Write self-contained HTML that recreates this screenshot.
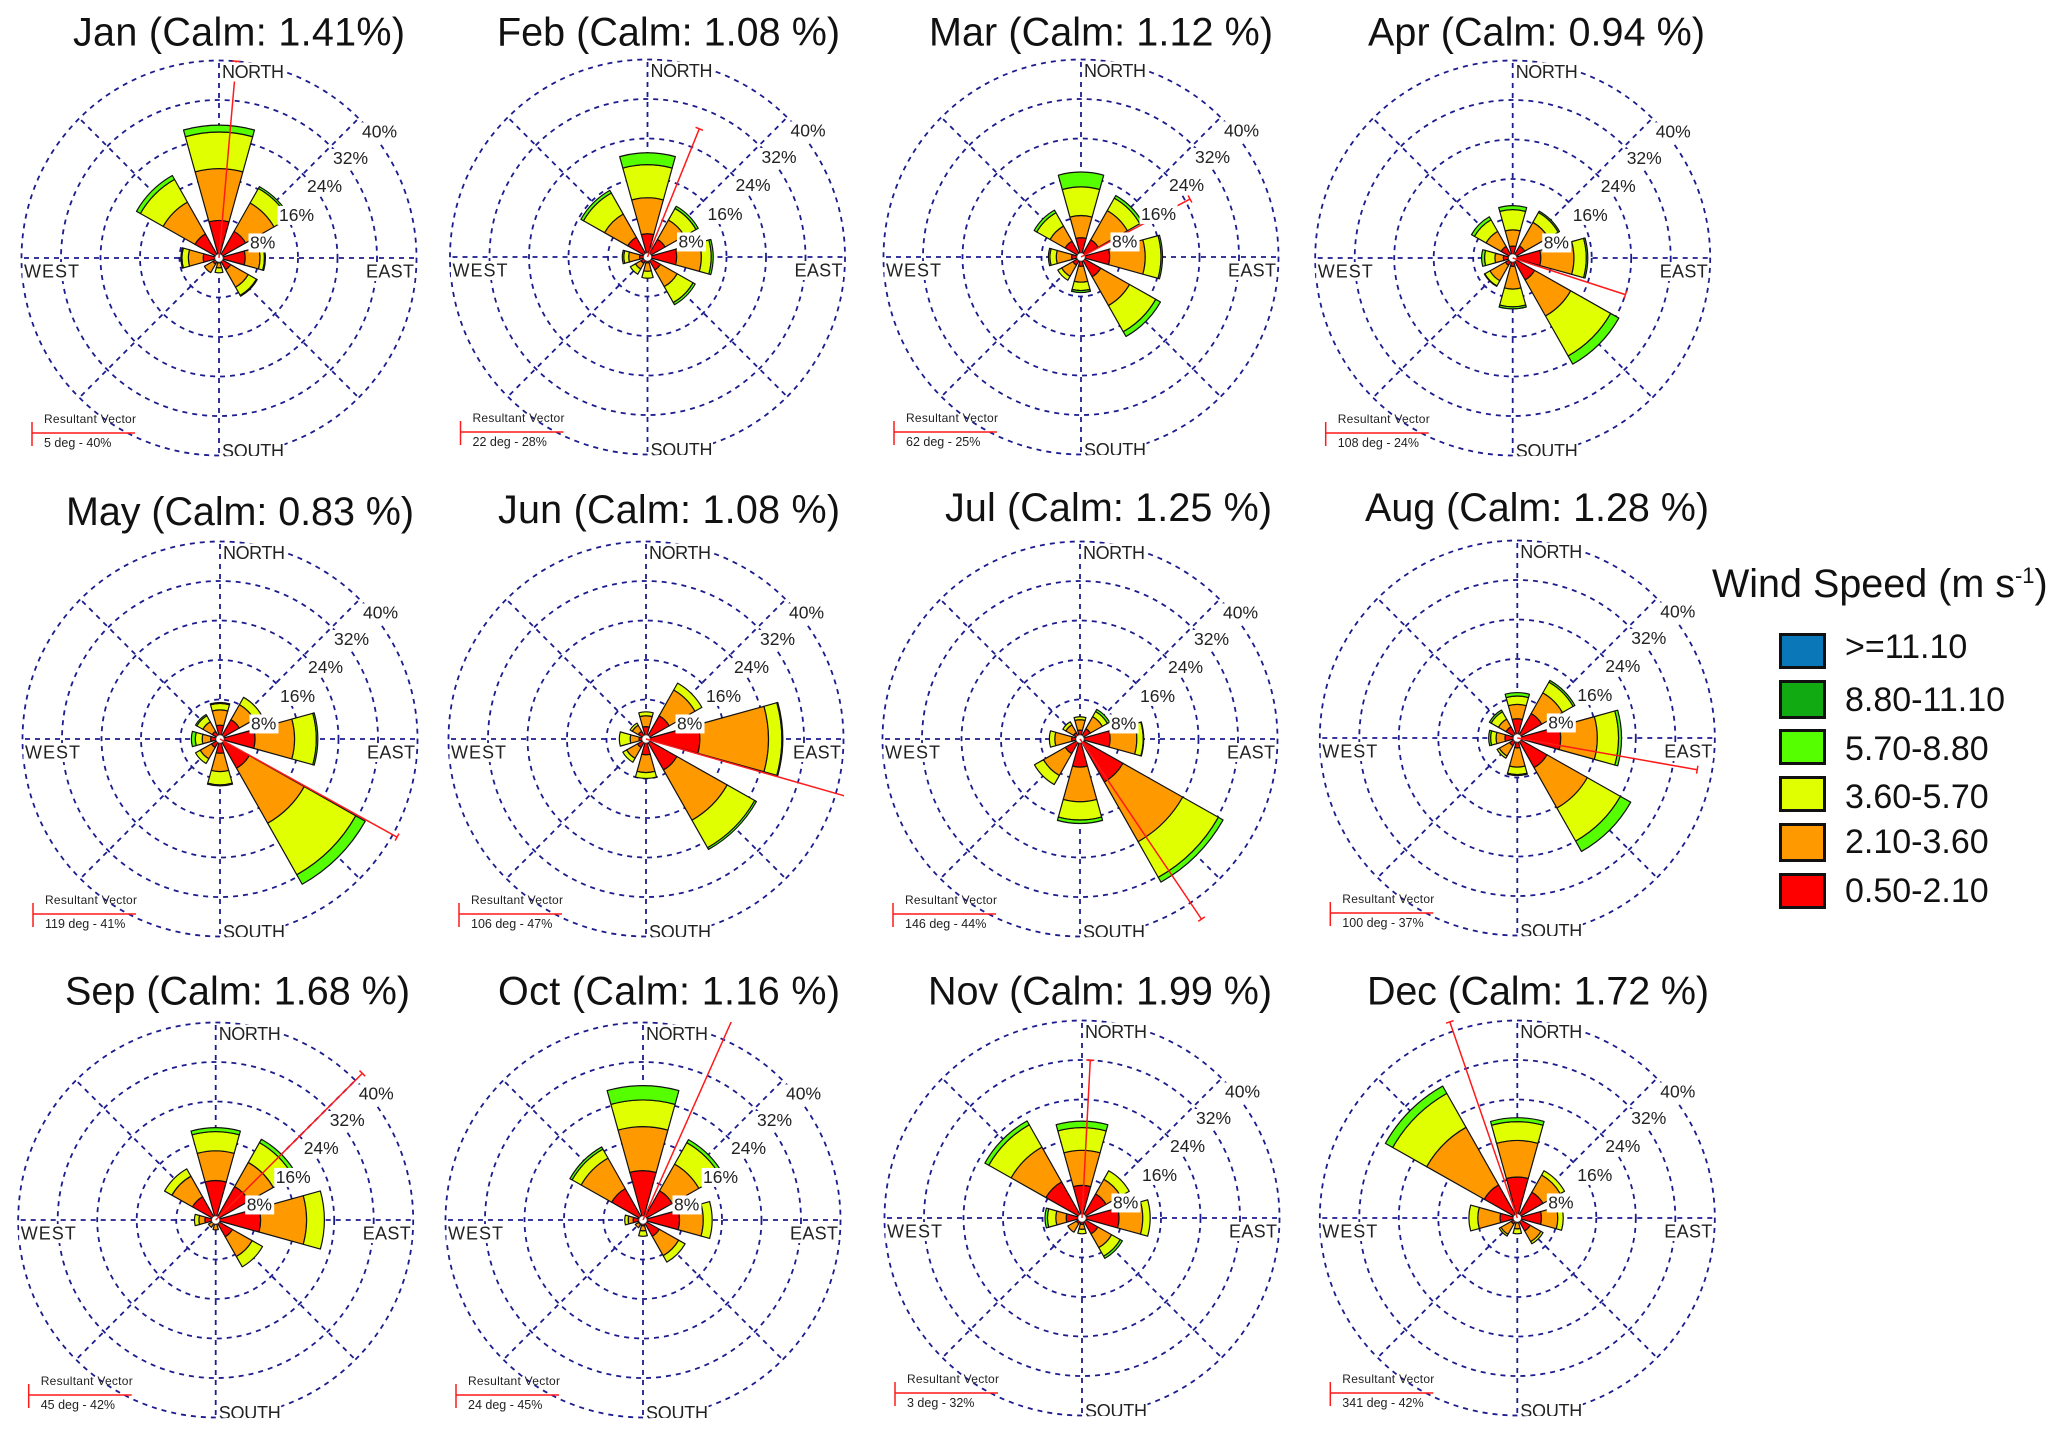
<!DOCTYPE html>
<html lang="en">
<head>
<meta charset="utf-8">
<title>Monthly wind roses</title>
<style>
html,body{margin:0;padding:0;background:#fff;}
svg{display:block;font-family:"Liberation Sans",Arial,sans-serif;filter:blur(0.35px);}
</style>
</head>
<body>
<svg id="wind-rose-figure" xmlns="http://www.w3.org/2000/svg" width="2067" height="1437" viewBox="0 0 2067 1437">
  <rect x="0" y="0" width="2067" height="1437" fill="#fff"/>
  <g id="panels"></g>
  <g>
    <text x="1712" y="597" font-size="39.5" fill="#111">Wind Speed (m s<tspan font-size="22" dy="-14">-1</tspan><tspan dy="14">)</tspan></text>
    <g>
      <rect x="1780.5" y="634.5" width="44" height="33" fill="#0a78b8" stroke="#111" stroke-width="3"/>
      <text x="1845" y="658" font-size="34" fill="#111">&gt;=11.10</text>
    </g>
    <g>
      <rect x="1780.5" y="681.5" width="44" height="36" fill="#12aa12" stroke="#111" stroke-width="3"/>
      <text x="1845" y="711" font-size="34" fill="#111">8.80-11.10</text>
    </g>
    <g>
      <rect x="1780.5" y="730.5" width="44" height="33" fill="#55ff00" stroke="#111" stroke-width="3"/>
      <text x="1845" y="760" font-size="34" fill="#111">5.70-8.80</text>
    </g>
    <g>
      <rect x="1780.5" y="777.5" width="44" height="33" fill="#e0ff00" stroke="#111" stroke-width="3"/>
      <text x="1845" y="808" font-size="34" fill="#111">3.60-5.70</text>
    </g>
    <g>
      <rect x="1780.5" y="824.5" width="44" height="36" fill="#ff9900" stroke="#111" stroke-width="3"/>
      <text x="1845" y="853" font-size="34" fill="#111">2.10-3.60</text>
    </g>
    <g>
      <rect x="1780.5" y="874.5" width="44" height="33" fill="#ff0000" stroke="#111" stroke-width="3"/>
      <text x="1845" y="902" font-size="34" fill="#111">0.50-2.10</text>
    </g>
  </g>
</svg>
<script>
// ---- chart data (cumulative frequency % at the top of each speed class) ----
const monthNames = ["Jan","Feb","Mar","Apr","May","Jun","Jul","Aug","Sep","Oct","Nov","Dec"];
const calmLabels = ["1.41%","1.08 %","1.12 %","0.94 %","0.83 %","1.08 %","1.25 %","1.28 %","1.68 %","1.16 %","1.99 %","1.72 %"];
const directions = ["N","NE","E","SE","S","SW","W","NW"];
const directionBearings = [0,45,90,135,180,225,270,315];
const ringTicks = [8,16,24,32,40];
const resultantDeg = [5,22,62,108,119,106,146,100,45,24,3,341];
const resultantPct = [40,28,25,24,41,47,44,37,42,45,32,42];

// rows: N, NE, E, SE, S, SW, W, NW; columns: red, orange, yellow, light green
const jan = [[7.6,18.1,25.5,26.9],[6.2,12.8,16.2,16.6],[5.3,8.3,9.2,9.4],[2.7,6.8,8.7,8.9],[1,2,3],[1.4,3.4],[3.2,6.2,7.5,7.7],[5.6,13,18.3,19.2]];
const feb = [[4.7,12,18.7,21.1],[4.1,8.6,11.3,11.8],[5.9,10.9,12.9,13.3],[3,6.9,10.6,11.1],[1.2,2.9,4.3],[1.5,2.8,4],[1.6,3.8,4.8,5.1],[4.6,10,14.9,15.5]];
const mar = [[3.9,8.4,14.2,17.2],[4,10.8,13.7,14.3],[5.8,13,16.2,16.5],[4.6,11.3,17.4,18.5],[1.9,5.1,6.8,7.2],[1.9,4.5,5.4],[1.9,5,6.3,6.6],[3.7,7.2,10.3,10.9]];
const apr = [[2.4,5.7,9.8,10.6],[2.8,8.3,10.6,10.9],[5.7,12.4,14.9,15.2],[5.1,13.5,22.8,24.7],[1.7,6.3,9.9,10.3],[1.7,5.3,6.5,6.6],[1.9,3.6,5.7,6.3],[2.7,6.2,8.9,9.6]];
const may = [[2.8,5.9,7.2,7.4],[4.5,8,9.7],[7.1,15.1,19.5,19.8],[6.8,19.6,31.6,33.8],[2.9,6.6,9.3,9.5],[2,4.6,5.7],[1.9,3.6,5,5.8],[1.8,4,5.4,5.7]];
const jun = [[2.5,4.7,5.5],[5.4,11.4,13],[10.9,24.8,27.5,27.7],[7.2,18.9,25.3,25.7],[3.2,6.8,8],[2,4.5,5.4],[1.4,3.2,5.4],[1.8,3.2,3.7]];
const jul = [[1.8,3.9,4.5],[2.4,5.2,6.4,6.9],[6.1,11.5,12.8,12.9],[10,23.9,32.2,33.3],[5.7,12.7,16.4,17.1],[3.4,8.5,10.6],[1.7,5.1,6.2],[1.5,3.3,4]];
const aug = [[3.9,6.8,8.5,9.2],[5.7,10.5,13,13.4],[8.8,16.2,20.5,21.1],[6.9,16.3,24,26.4],[2,5.9,7.4,7.6],[1.8,4.2,4.7],[2.5,4.3,5.4,5.8],[2.6,4.4,6.1,6.5]];
const sep = [[8,14,17.9,18.7],[7.8,13.4,18,18.8],[9.1,18.4,22],[3.9,8.5,10.9],[0.9,2],[0.7,1.7],[2.2,3.4,4.3],[5.4,10.2,11.9]];
const oct = [[10,18.9,24.3,27.2],[6.8,13,18,18.7],[7.4,12.2,14],[3.8,8.3,9.8],[1.2,2.2,3.3],[1,1.8],[2,3,3.7],[7.3,14.4,16.5,17]];
const nov = [[6.6,13.7,18.3,19.6],[5.6,9,11],[7.5,12.3,13.8],[3.7,6.9,8.9,9.4],[1.3,2.3,3.2],[1.3,3.3],[3.2,5.3,7,7.5],[8.4,16.5,21.7,22.6]];
const dec = [[8.3,15.7,19.5,20.3],[6,10,11],[4.9,8.2,9.3],[3,5.5,6],[1,2.2,3.2],[1.4,3.8,4.2],[3.5,8,9.8],[7.7,21.1,29,30.7]];
const monthData = [jan,feb,mar,apr,may,jun,jul,aug,sep,oct,nov,dec];

// ---- layout and styling, separate from the data ----
const speedColors = ["#ff0000","#ff9900","#e0ff00","#55ff00","#12aa12","#0a78b8"];
const speedNames = ["0-50-2-10","2-10-3-60","3-60-5-70","5-70-8-80","8-80-11-10","above-11-10"];
const panelLayout = [
  {cx:219,cy:258,tx0:73,tx1:405,ty:45.5},
  {cx:647.5,cy:257,tx0:497,tx1:840,ty:45.5},
  {cx:1081,cy:257,tx0:929,tx1:1273,ty:45.5},
  {cx:1512.7,cy:258,tx0:1368,tx1:1705,ty:45.5},
  {cx:220,cy:739,tx0:66,tx1:414,ty:525},
  {cx:646,cy:739,tx0:498,tx1:840,ty:523},
  {cx:1080,cy:739,tx0:945,tx1:1272,ty:521},
  {cx:1517.3,cy:738,tx0:1365,tx1:1709,ty:521},
  {cx:215.7,cy:1220,tx0:65,tx1:410,ty:1004.5},
  {cx:643,cy:1220,tx0:498,tx1:840,ty:1004.5},
  {cx:1082,cy:1218,tx0:928,tx1:1272,ty:1004.5},
  {cx:1517.3,cy:1218,tx0:1367,tx1:1709,ty:1004.5}
];
const pxPerPercent = 197.5 / 40;
const halfWidthDeg = 15.5;
const navy = "#1c1c8e";
const gridDash = "5 5";
const SVGNS = "http://www.w3.org/2000/svg";

function rScale(pct) { return pct * pxPerPercent; }
function polar(cx, cy, r, deg) {
  const a = deg * Math.PI / 180;
  return [cx + r * Math.sin(a), cy - r * Math.cos(a)];
}
function mk(tag, parent) {
  const el = document.createElementNS(SVGNS, tag);
  parent.appendChild(el);
  return el;
}
function fmt(p) { return p[0].toFixed(2) + " " + p[1].toFixed(2); }
function sectorPath(cx, cy, r0, r1, bearing) {
  const a1 = bearing - halfWidthDeg, a2 = bearing + halfWidthDeg;
  const p1 = polar(cx, cy, r1, a1), p2 = polar(cx, cy, r1, a2);
  if (r0 <= 0) {
    return "M" + cx + " " + cy + " L" + fmt(p1) + " A" + r1.toFixed(2) + " " + r1.toFixed(2) + " 0 0 1 " + fmt(p2) + " Z";
  }
  const p3 = polar(cx, cy, r0, a2), p4 = polar(cx, cy, r0, a1);
  return "M" + fmt(p4) + " L" + fmt(p1) + " A" + r1.toFixed(2) + " " + r1.toFixed(2) + " 0 0 1 " + fmt(p2) +
         " L" + fmt(p3) + " A" + r0.toFixed(2) + " " + r0.toFixed(2) + " 0 0 0 " + fmt(p4) + " Z";
}
function boxedLabel(parent, text, x, baseline, boxW, boxH, size, name, clipId, fitWidth) {
  const g = mk("g", parent);
  
  
  if (clipId) g.setAttribute("clip-path", "url(#" + clipId + ")");
  const box = mk("rect", g);
  
  
  box.setAttribute("x", x - 1.5);
  box.setAttribute("y", baseline - size * 0.86);
  box.setAttribute("width", boxW);
  box.setAttribute("height", boxH);
  box.setAttribute("fill", "#fff");
  const t = mk("text", g);
  
  
  t.setAttribute("x", x);
  t.setAttribute("y", baseline);
  t.setAttribute("font-size", size);
  t.setAttribute("fill", "#222");
  if (fitWidth) t.setAttribute("textLength", fitWidth);
  t.textContent = text;
}

const root = document.getElementById("panels");
const ringLabelOffsets = [[31,-9.5],[60,-37],[88,-66],[114,-94],[143,-120.5]];

monthNames.forEach(function (month, m) {
  const L = panelLayout[m], cx = L.cx, cy = L.cy, key = month.toLowerCase();
  const g = mk("g", root);
  
  

  const clip = mk("clipPath", g);
  clip.setAttribute("id", "clip-" + key);
  const clipRect = mk("rect", clip);
  clipRect.setAttribute("x", cx - 210);
  clipRect.setAttribute("y", cy - 215);
  clipRect.setAttribute("width", 420);
  clipRect.setAttribute("height", 413);

  const frame = mk("clipPath", g);
  frame.setAttribute("id", "frame-" + key);
  const frameRect = mk("rect", frame);
  frameRect.setAttribute("x", cx - 198);
  frameRect.setAttribute("y", cy - 198);
  frameRect.setAttribute("width", 396);
  frameRect.setAttribute("height", 396);

  const title = mk("text", g);
  
  
  title.setAttribute("x", L.tx0);
  title.setAttribute("y", L.ty);
  title.setAttribute("font-size", 39.5);
  title.setAttribute("fill", "#111");
  title.setAttribute("textLength", L.tx1 - L.tx0);
  title.setAttribute("lengthAdjust", "spacing");
  title.setAttribute("xml:space", "preserve");
  title.textContent = month + " (Calm: " + calmLabels[m] + ")";

  directionBearings.forEach(function (b, i) {
    const end = polar(cx, cy, rScale(ringTicks[ringTicks.length - 1]), b);
    const spoke = mk("line", g);
    
    
    spoke.setAttribute("x1", cx);
    spoke.setAttribute("y1", cy);
    spoke.setAttribute("x2", end[0]);
    spoke.setAttribute("y2", end[1]);
    spoke.setAttribute("stroke", navy);
    spoke.setAttribute("stroke-width", 1.8);
    spoke.setAttribute("stroke-dasharray", gridDash);
  });
  ringTicks.forEach(function (t) {
    const ring = mk("circle", g);
    
    
    ring.setAttribute("cx", cx);
    ring.setAttribute("cy", cy);
    ring.setAttribute("r", rScale(t));
    ring.setAttribute("fill", "none");
    ring.setAttribute("stroke", navy);
    ring.setAttribute("stroke-width", 1.8);
    ring.setAttribute("stroke-dasharray", gridDash);
  });

  monthData[m].forEach(function (row, d) {
    let prev = 0;
    row.forEach(function (top, s) {
      const seg = mk("path", g);
      
      
      seg.setAttribute("d", sectorPath(cx, cy, rScale(prev), rScale(top), directionBearings[d]));
      seg.setAttribute("fill", speedColors[s]);
      seg.setAttribute("stroke", "#111");
      seg.setAttribute("stroke-width", 1.2);
      seg.setAttribute("stroke-linejoin", "round");
      prev = top;
    });
  });

  const hub = mk("circle", g);
  
  
  hub.setAttribute("cx", cx);
  hub.setAttribute("cy", cy);
  hub.setAttribute("r", 4.2);
  hub.setAttribute("fill", "#fff");
  hub.setAttribute("stroke", "#333");
  hub.setAttribute("stroke-width", 0.8);

  const deg = resultantDeg[m];
  const tip = polar(cx, cy, rScale(resultantPct[m]), deg);
  const vectorGroup = mk("g", g);
  
  
  vectorGroup.setAttribute("clip-path", "url(#frame-" + key + ")");
  const vec = mk("line", vectorGroup);
  
  
  vec.setAttribute("x1", cx);
  vec.setAttribute("y1", cy);
  vec.setAttribute("x2", tip[0]);
  vec.setAttribute("y2", tip[1]);
  vec.setAttribute("stroke", "#ff1a1a");
  vec.setAttribute("stroke-width", 1.5);
  const capA = polar(tip[0], tip[1], 4, deg - 90), capB = polar(tip[0], tip[1], 4, deg + 90);
  const cap = mk("line", vectorGroup);
  
  
  cap.setAttribute("x1", capA[0]);
  cap.setAttribute("y1", capA[1]);
  cap.setAttribute("x2", capB[0]);
  cap.setAttribute("y2", capB[1]);
  cap.setAttribute("stroke", "#ff1a1a");
  cap.setAttribute("stroke-width", 1.5);

  ringTicks.forEach(function (t, i) {
    const off = ringLabelOffsets[i];
    boxedLabel(g, t + "%", cx + off[0], cy + off[1], i === 0 ? 29 : 38, 19, 17.5, 'ring-label-' + t + '-percent');
  });
  boxedLabel(g, "NORTH", cx + 3, cy - 180, 64, 19, 18, 'north-label', "clip-" + key, 62);
  boxedLabel(g, "WEST", cx - 195, cy + 19.5, 57, 19, 18, 'west-label', "clip-" + key, 55);
  boxedLabel(g, "EAST", cx + 147, cy + 19.5, 50, 19, 18, 'east-label', "clip-" + key, 48);
  boxedLabel(g, "SOUTH", cx + 3, cy + 199, 64, 19, 18, 'south-label', "clip-" + key, 62);

  const lx = cx - 187, ly = cy + 175;
  const refBar = mk("line", g);
  
  
  refBar.setAttribute("x1", lx);
  refBar.setAttribute("y1", ly);
  refBar.setAttribute("x2", lx + 103);
  refBar.setAttribute("y2", ly);
  refBar.setAttribute("stroke", "#ff1a1a");
  refBar.setAttribute("stroke-width", 1.5);
  const refTick = mk("line", g);
  
  
  refTick.setAttribute("x1", lx);
  refTick.setAttribute("y1", ly - 11);
  refTick.setAttribute("x2", lx);
  refTick.setAttribute("y2", ly + 13);
  refTick.setAttribute("stroke", "#ff1a1a");
  refTick.setAttribute("stroke-width", 1.5);
  const keyTitle = mk("text", g);
  
  
  keyTitle.setAttribute("x", lx + 12);
  keyTitle.setAttribute("y", ly - 10);
  keyTitle.setAttribute("font-size", 12);
  keyTitle.setAttribute("fill", "#222");
  keyTitle.setAttribute("textLength", 92);
  keyTitle.textContent = "Resultant Vector";
  const keyValue = mk("text", g);
  
  
  keyValue.setAttribute("x", lx + 12);
  keyValue.setAttribute("y", ly + 14);
  keyValue.setAttribute("font-size", 12.5);
  keyValue.setAttribute("fill", "#222");
  keyValue.textContent = resultantDeg[m] + " deg - " + resultantPct[m] + "%";
});
</script>
</body>
</html>
